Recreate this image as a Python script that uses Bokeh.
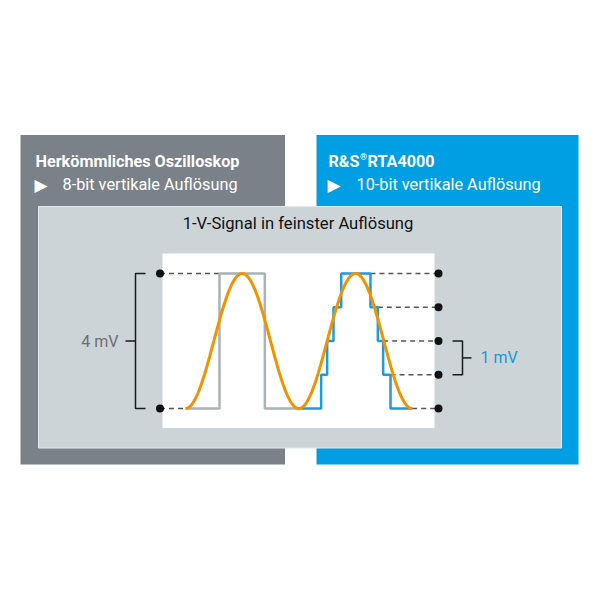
import numpy as np
from bokeh.plotting import figure
from bokeh.models import Range1d
from bokeh.core.properties import value
from bokeh.embed import file_html
from bokeh.resources import INLINE

# ---------------- data ----------------
title_left = "Herkömmliches Oszilloskop"
sub_left = "8-bit vertikale Auflösung"
title_right_parts = ["R&S", "®", "RTA4000"]   # R&S®RTA4000 with superscript ®
sub_right = "10-bit vertikale Auflösung"
panel_title = "1-V-Signal in feinster Auflösung"
label_8bit = "4 mV"
label_10bit = "1 mV"

levels_8bit_mV = [0, 4]            # quantisation levels shown left
levels_10bit_mV = [0, 1, 2, 3, 4]  # quantisation levels shown right
step8_t = [0.0, 0.30, 0.70, 1.00]  # time in signal periods
step8_mV = [0, 4, 0, 0]
step10_t = [1.00, 1.197, 1.25, 1.306, 1.374, 1.632, 1.697, 1.744, 1.809, 2.00]
step10_mV = [0, 1, 2, 3, 4, 3, 2, 1, 0, 0]
signal_offset_mV = 2.0
signal_amplitude_mV = 2.0
signal_periods = 2

# ---------------- layout (pixel space) ----------------
W = H = 584
px_per_period = 113.33
t0_px = 185.0
px_per_mV = 33.75
mV0_px = 408.0

p = figure(width=W, height=H, x_range=Range1d(0, W), y_range=Range1d(H, 0),
           output_backend="svg", toolbar_location=None, min_border=0,
           x_axis_location=None, y_axis_location=None)
p.xgrid.visible = False
p.ygrid.visible = False
p.outline_line_color = None
p.background_fill_color = "white"
p.border_fill_color = "white"
p.extra_x_ranges = {"t": Range1d((0 - t0_px) / px_per_period, (W - t0_px) / px_per_period)}
p.extra_y_ranges = {"mV": Range1d((mV0_px - H) / px_per_mV, (mV0_px - 0) / px_per_mV)}

# boxes
p.quad(left=[20], right=[284.5], top=[134.5], bottom=[464], fill_color="#7B8188", line_color=None)
p.quad(left=[316], right=[578], top=[134.5], bottom=[464], fill_color="#009EE2", line_color=None)
p.quad(left=[38], right=[561], top=[206], bottom=[447.5], fill_color="#CDD4D8",
       line_color="#E2E7E9", line_width=1)
p.quad(left=[162], right=[434], top=[253], bottom=[427.5], fill_color="white", line_color=None)

FONT = value("Roboto")

# header texts
p.text(x=[35, 328, 367], y=[161, 161, 161], text=[title_left, title_right_parts[0], title_right_parts[2]],
       text_font=FONT, text_font_size="16.2px", text_font_style="bold", text_color="white",
       text_baseline="middle", text_align="left")
p.text(x=[359.5], y=[156], text=[title_right_parts[1]], text_font=FONT, text_font_size="9px",
       text_font_style="bold", text_color="white", text_baseline="middle", text_align="left")
p.text(x=[34, 327], y=[184, 184], text=["▶", "▶"], text_font=value("DejaVu Sans"),
       text_font_size="17px", text_color="white", text_baseline="middle", text_align="left")
p.text(x=[62, 356], y=[184, 184], text=[sub_left, sub_right], text_font=FONT,
       text_font_size="16.3px", text_color="white", text_baseline="middle", text_align="left")
p.text(x=[297.5], y=[223], text=[panel_title], text_font=FONT, text_font_size="16.6px",
       text_color="#111111", text_baseline="middle", text_align="center")

# dashed level lines
dot_t_left = (159.5 - t0_px) / px_per_period
dot_t_right = (438 - t0_px) / px_per_period
left_end_t = [step8_t[0], step8_t[1]]
p.segment(x0=[dot_t_left] * 2, x1=left_end_t, y0=levels_8bit_mV, y1=levels_8bit_mV,
          x_range_name="t", y_range_name="mV", line_color="#555555", line_width=1.3,
          line_dash="5 4")
right_start_t = step10_t[5:]
right_levels = step10_mV[4:9]
p.segment(x0=right_start_t, x1=[dot_t_right] * len(right_levels), y0=right_levels,
          y1=right_levels, x_range_name="t", y_range_name="mV", line_color="#555555",
          line_width=1.3, line_dash="5 4")

# quantised traces
p.step(step8_t, step8_mV, mode="after", x_range_name="t", y_range_name="mV",
       line_color="#A9B2B8", line_width=2.5)
p.step(step10_t, step10_mV, mode="after", x_range_name="t", y_range_name="mV",
       line_color="#1E9BE0", line_width=2.5)

# the analog signal (sine)
t = np.linspace(0, signal_periods, 400)
v = signal_offset_mV - signal_amplitude_mV * np.cos(2 * np.pi * t)
p.line(t, v, x_range_name="t", y_range_name="mV", line_color="#F39200", line_width=3)

# level dots
p.scatter([dot_t_left] * len(levels_8bit_mV), levels_8bit_mV, x_range_name="t",
          y_range_name="mV", size=8, fill_color="#111111", line_color=None)
p.scatter([dot_t_right] * len(levels_10bit_mV), levels_10bit_mV, x_range_name="t",
          y_range_name="mV", size=8, fill_color="#111111", line_color=None)

# brackets
lo8, hi8 = min(levels_8bit_mV), max(levels_8bit_mV)
p.multi_line(xs=[[145, 135, 135, 145], [125, 135]],
             ys=[[hi8, hi8, lo8, lo8], [(lo8 + hi8) / 2] * 2],
             y_range_name="mV", line_color="#1A1A1A", line_width=1.5)
lo10, hi10 = levels_10bit_mV[1], levels_10bit_mV[2]
p.multi_line(xs=[[452, 462, 462, 452], [462, 471]],
             ys=[[hi10, hi10, lo10, lo10], [(lo10 + hi10) / 2] * 2],
             y_range_name="mV", line_color="#1A1A1A", line_width=1.5)
p.text(x=[118], y=[(lo8 + hi8) / 2], text=[label_8bit], y_range_name="mV", text_font=FONT,
       text_font_size="16px", text_color="#6E6E6E", text_baseline="middle", text_align="right")
p.text(x=[480], y=[(lo10 + hi10) / 2], text=[label_10bit], y_range_name="mV", text_font=FONT,
       text_font_size="16px", text_color="#1A96D6", text_baseline="middle", text_align="left")

open("out.html", "w").write(file_html(p, INLINE))
